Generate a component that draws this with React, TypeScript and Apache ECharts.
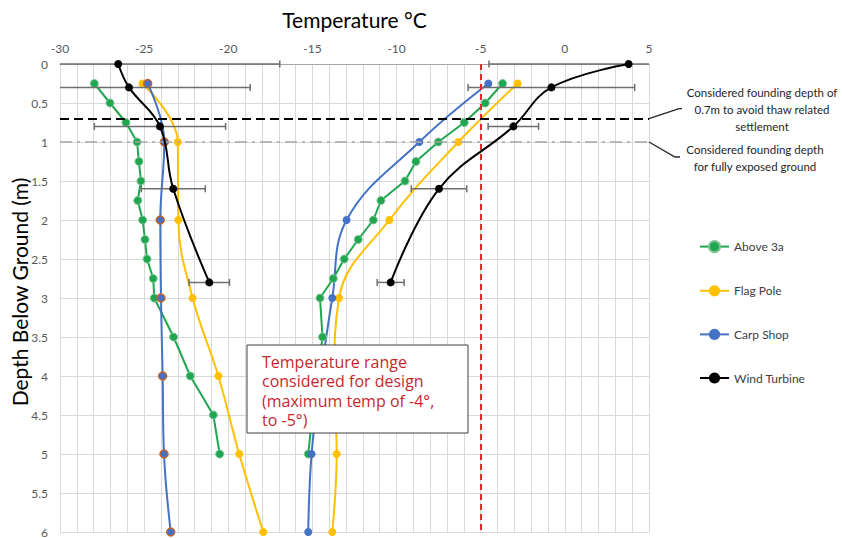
import React, { useEffect, useRef } from "react";
import * as echarts from "echarts";

// ---- data (temperature °C vs depth m) ----
const aboveDepths = [0.25, 0.5, 0.75, 1, 1.25, 1.5, 1.75, 2, 2.25, 2.5, 2.75, 3, 3.5, 4, 4.5, 5];
const aboveMin = [-27.96, -27.03, -26.08, -25.42, -25.31, -25.19, -25.38, -25.09, -24.95, -24.83, -24.46, -24.4, -23.25, -22.26, -20.89, -20.51];
const aboveMax = [-3.7, -4.73, -5.98, -7.52, -8.85, -9.5, -10.93, -11.38, -12.28, -13.11, -13.76, -14.55, -14.4, -14.7, -15.0, -15.25];

const flagDepths = [0.25, 1, 2, 3, 4, 5, 6];
const flagMin = [-25.1, -23.0, -22.97, -22.12, -20.59, -19.35, -17.92];
const flagMax = [-2.81, -6.33, -10.43, -13.42, -13.7, -13.56, -13.82];

const carpDepths = [0.25, 1, 2, 3, 4, 5, 6];
const carpMin = [-24.79, -23.8, -24.04, -24.0, -23.9, -23.82, -23.42];
const carpMax = [-4.55, -8.65, -12.97, -13.82, -14.5, -15.05, -15.25];

const windDepths = [0, 0.3, 0.8, 1.6, 2.8];
const windMin = [-26.54, -25.9, -24.06, -23.27, -21.13];
const windMax = [3.79, -0.8, -3.06, -7.48, -10.35];
const windMinErr = [9.6, 7.2, 3.9, 1.9, 1.2];
const windMaxErr = [8.3, 4.95, 1.5, 1.65, 0.8];

const xMin = -30;
const xMax = 5;
const designTemp = -5;
const thawDepth = 0.7;
const exposedDepth = 1.0;

const legendNames = ["Above 3a", "Flag Pole", "Carp Shop", "Wind Turbine"];

const FONT = "Lato";

const pair = (xs: number[], ds: number[]) => xs.map((x, i) => [x, ds[i]]);

export default function App() {
  const ref = useRef<HTMLDivElement>(null);
  useEffect(() => {
    const chart = echarts.init(ref.current!, null, { renderer: "svg" });

    const green = "#1fa64e";
    const yellow = "#FFC000";
    const blue = "#4472C4";
    const black = "#000000";

    const lineSeries = (
      name: string,
      data: number[][],
      color: string,
      smooth: boolean | number,
      extra: any = {}
    ) => ({
      type: "line",
      name,
      data,
      smooth,
      symbol: "circle",
      symbolSize: 8,
      showSymbol: true,
      lineStyle: { color, width: 2 },
      itemStyle: { color, ...(extra.itemStyle || {}) },
      z: extra.z ?? 3,
    });

    const errData = [
      ...windMin.map((v, i) => [v - windMinErr[i], v + windMinErr[i], windDepths[i]]),
      ...windMax.map((v, i) => [v - windMaxErr[i], v + windMaxErr[i], windDepths[i]]),
    ];

    const option: any = {
      animation: false,
      backgroundColor: "#ffffff",
      grid: { left: 60, right: 193, top: 64, bottom: 6, containLabel: false, outerBoundsMode: "none" },
      legend: {
        orient: "vertical",
        left: 699,
        top: 240,
        padding: 0,
        itemWidth: 29,
        itemHeight: 14,
        itemGap: 31.6,
        data: legendNames,
        textStyle: { fontFamily: FONT, fontSize: 12, color: "#404040" },
      },
      xAxis: {
        type: "value",
        position: "top",
        min: xMin,
        max: xMax,
        interval: 5,
        name: "Temperature °C",
        nameLocation: "middle",
        nameGap: 34,
        nameTextStyle: { fontFamily: FONT, fontSize: 21, color: "#000000" },
        axisLine: { show: true, lineStyle: { color: "#a6a6a6", width: 1 } },
        axisTick: { show: false },
        axisLabel: { fontFamily: FONT, fontSize: 12, color: "#595959", margin: 10 },
        splitLine: { show: true, lineStyle: { color: "#d9d9d9", width: 1 } },
        minorTick: { show: false, splitNumber: 5 },
        minorSplitLine: { show: true, lineStyle: { color: "#d9d9d9", width: 1 } },
      },
      yAxis: {
        type: "value",
        inverse: true,
        min: 0,
        max: 6,
        interval: 0.5,
        axisLine: { show: false },
        axisTick: { show: false },
        axisLabel: { fontFamily: FONT, fontSize: 12, color: "#595959", margin: 12 },
        splitLine: { show: true, lineStyle: { color: "#d9d9d9", width: 1 } },
      },
      series: [
        {
          type: "line",
          name: "ref",
          data: [],
          silent: true,
          markLine: {
            silent: true,
            symbol: "none",
            label: { show: false },
            data: [
              { xAxis: designTemp, lineStyle: { color: "#e8262a", width: 2, type: [6, 4] } },
              { yAxis: thawDepth, lineStyle: { color: "#000000", width: 2, type: [9, 5] } },
              { yAxis: exposedDepth, lineStyle: { color: "#a6a6a6", width: 1.5, type: [12, 5, 3, 5] } },
            ],
          },
          z: 2,
        },
        {
          type: "custom",
          name: "Wind Turbine err",
          data: errData,
          encode: { x: [0, 1], y: 2 },
          z: 4,
          silent: true,
          renderItem: (params: any, api: any) => {
            const lo = api.value(0);
            const hi = api.value(1);
            const d = api.value(2);
            const cl = Math.max(lo, xMin);
            const ch = Math.min(hi, xMax);
            const p1 = api.coord([cl, d]);
            const p2 = api.coord([ch, d]);
            const st = { stroke: "#6e6e6e", lineWidth: 1.5 };
            const cap = 3.5;
            const children: any[] = [
              { type: "line", shape: { x1: p1[0], y1: p1[1], x2: p2[0], y2: p2[1] }, style: st },
            ];
            if (lo >= xMin)
              children.push({ type: "line", shape: { x1: p1[0], y1: p1[1] - cap, x2: p1[0], y2: p1[1] + cap }, style: st });
            if (hi <= xMax)
              children.push({ type: "line", shape: { x1: p2[0], y1: p2[1] - cap, x2: p2[0], y2: p2[1] + cap }, style: st });
            return { type: "group", children };
          },
        },
        lineSeries("Above 3a", pair(aboveMin, aboveDepths), green, false, {
          itemStyle: { borderColor: "#7cc495", borderWidth: 1 },
        }),
        lineSeries("Above 3a", pair(aboveMax, aboveDepths), green, false, {
          itemStyle: { borderColor: "#7cc495", borderWidth: 1 },
        }),
        lineSeries("Flag Pole", pair(flagMin, flagDepths), yellow, 0.4),
        lineSeries("Flag Pole", pair(flagMax, flagDepths), yellow, 0.4),
        lineSeries("Carp Shop", pair(carpMax, carpDepths), blue, 0.4),
        lineSeries("Carp Shop", pair(carpMin, carpDepths), blue, 0.4, {
          itemStyle: { borderColor: "#c0622f", borderWidth: 1.5 },
        }),
        lineSeries("Wind Turbine", pair(windMin, windDepths), black, 0.4, { z: 5 }),
        lineSeries("Wind Turbine", pair(windMax, windDepths), black, 0.4, { z: 5 }),
      ],
    };

    chart.setOption(option);

    const a = chart.convertToPixel({ gridIndex: 0 }, [xMax, thawDepth]) as number[];
    const b = chart.convertToPixel({ gridIndex: 0 }, [xMax, exposedDepth]) as number[];
    const noteStyle = { fontFamily: FONT, fontSize: 11.5, fill: "#262626", textAlign: "center", lineHeight: 17 };

    chart.setOption({
      graphic: {
        z: 100,
        zlevel: 0,
        elements: [
          {
            type: "text",
            z: 100,
            x: 19,
            y: 292,
            rotation: Math.PI / 2,
            style: {
              text: "Depth Below Ground (m)",
              fontFamily: FONT,
              fontSize: 21,
              fill: "#000000",
              textAlign: "center",
              textVerticalAlign: "middle",
            },
          },
          {
            type: "polyline",
            z: 100,
            shape: { points: [[a[0], a[1]], [a[0] + 30, a[1] - 10], [a[0] + 33, a[1] - 10]] },
            style: { stroke: "#262626", lineWidth: 1.3, fill: "none" },
          },
          {
            type: "polyline",
            z: 100,
            shape: { points: [[b[0], b[1]], [b[0] + 26, b[1] + 15], [b[0] + 31, b[1] + 15]] },
            style: { stroke: "#262626", lineWidth: 1.3, fill: "none" },
          },
          {
            type: "text",
            z: 100,
            x: 762,
            y: 84,
            style: { ...noteStyle, text: "Considered founding depth of\n0.7m to avoid thaw related\nsettlement" },
          },
          {
            type: "text",
            z: 100,
            x: 755,
            y: 141,
            style: { ...noteStyle, text: "Considered founding depth\nfor fully exposed ground" },
          },
          {
            type: "rect",
            z: 100,
            shape: { x: 247, y: 345, width: 221, height: 88 },
            style: { fill: "#ffffff", stroke: "#404040", lineWidth: 1 },
          },
          {
            type: "text",
            z: 101,
            x: 262,
            y: 352,
            style: {
              text: "Temperature range\nconsidered for design\n(maximum temp of -4°,\nto -5°)",
              fontFamily: "Open Sans",
              fontSize: 16,
              lineHeight: 19.5,
              fill: "#c8282d",
            },
          },
        ],
      },
    });

    return () => chart.dispose();
  }, []);

  return (
    <div
      ref={ref}
      style={{ position: "absolute", left: 0, top: 0, width: 842, height: 538 }}
    />
  );
}
